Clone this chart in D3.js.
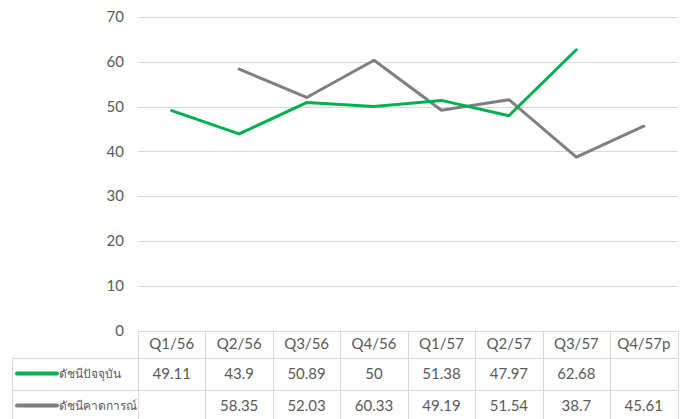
<!DOCTYPE html>
<html>
<head>
<meta charset="utf-8">
<script src="https://cdn.jsdelivr.net/npm/d3@7"></script>
<style>
  html, body { margin: 0; padding: 0; background: #fff; }
  svg { display: block; font-family: Lato, "Open Sans", sans-serif; }
</style>
</head>
<body>
<svg id="chart" width="685" height="419"></svg>
<script>
// Thai economic index chart: current vs expected, with Excel-style data table

const quarters = ["Q1/56", "Q2/56", "Q3/56", "Q4/56", "Q1/57", "Q2/57", "Q3/57", "Q4/57p"];
const currentIdx = [49.11, 43.9, 50.89, 50, 51.38, 47.97, 62.68, null];
const expectIdx = [null, 58.35, 52.03, 60.33, 49.19, 51.54, 38.7, 45.61];
const seriesNames = ["ดัชนีปัจจุบัน", "ดัชนีคาดการณ์"];
const yTicks = [0, 10, 20, 30, 40, 50, 60, 70];

const series = [
  { name: seriesNames[0], values: currentIdx, color: "#00b050" },
  { name: seriesNames[1], values: expectIdx, color: "#7f7f7f" },
];

const W = 685, H = 419;
const plotL = 138, plotR = 677.5, plotT = 17, plotB = 330.5;
const tableLeft = 12, rowH = [27, 32, 32];

const svg = d3.select("#chart");

const x = d3.scaleBand().domain(quarters).range([plotL, plotR]);
const y = d3.scaleLinear().domain([0, 70]).range([plotB, plotT]);

// gridlines
svg.append("g")
  .selectAll("line")
  .data(yTicks.filter(d => d > 0))
  .enter().append("line")
  .attr("x1", plotL).attr("x2", plotR)
  .attr("y1", d => Math.round(y(d)) + 0.5).attr("y2", d => Math.round(y(d)) + 0.5)
  .attr("stroke", "#d9d9d9").attr("stroke-width", 1);

// y axis labels
svg.append("g")
  .selectAll("text")
  .data(yTicks)
  .enter().append("text")
  .attr("x", 124)
  .attr("y", d => y(d))
  .attr("dy", "0.35em")
  .attr("text-anchor", "end")
  .attr("font-size", 15)
  .attr("fill", "#595959")
  .text(d => d);

// lines
const line = d3.line()
  .defined(d => d != null)
  .x((d, i) => x(quarters[i]) + x.bandwidth() / 2)
  .y(d => y(d));

svg.append("g")
  .selectAll("path")
  .data(series.slice().reverse())
  .enter().append("path")
  .attr("d", d => line(d.values))
  .attr("fill", "none")
  .attr("stroke", d => d.color)
  .attr("stroke-width", 3)
  .attr("stroke-linejoin", "round")
  .attr("stroke-linecap", "round");

// data table
const rowTop = [plotB, plotB + rowH[0], plotB + rowH[0] + rowH[1]];
const tbl = svg.append("g").attr("stroke", "#d9d9d9").attr("stroke-width", 1);

// horizontal rules
tbl.append("line").attr("x1", plotL).attr("x2", plotR)
  .attr("y1", Math.round(rowTop[0]) + 0.5).attr("y2", Math.round(rowTop[0]) + 0.5);
[rowTop[1], rowTop[2]].forEach(yy => {
  tbl.append("line").attr("x1", tableLeft).attr("x2", plotR)
    .attr("y1", Math.round(yy) + 0.5).attr("y2", Math.round(yy) + 0.5);
});
// vertical rules
tbl.selectAll("line.v")
  .data(quarters.map(q => x(q)).concat([plotR]))
  .enter().append("line")
  .attr("class", "v")
  .attr("x1", d => Math.round(d) + 0.5).attr("x2", d => Math.round(d) + 0.5)
  .attr("y1", rowTop[0]).attr("y2", H);
tbl.append("line")
  .attr("x1", tableLeft + 0.5).attr("x2", tableLeft + 0.5)
  .attr("y1", rowTop[1]).attr("y2", H);

// header labels
svg.append("g")
  .selectAll("text")
  .data(quarters)
  .enter().append("text")
  .attr("x", d => x(d) + x.bandwidth() / 2)
  .attr("y", rowTop[0] + rowH[0] / 2)
  .attr("dy", "0.35em")
  .attr("text-anchor", "middle")
  .attr("font-size", 15)
  .attr("fill", "#595959")
  .text(d => d);

// series rows
series.forEach((s, si) => {
  const cy = rowTop[si + 1] + rowH[si + 1] / 2;
  svg.append("line")
    .attr("x1", 17).attr("x2", 57)
    .attr("y1", cy).attr("y2", cy)
    .attr("stroke", s.color).attr("stroke-width", 4)
    .attr("stroke-linecap", "round");
  svg.append("text")
    .attr("x", 59).attr("y", cy)
    .attr("dy", "0.35em")
    .attr("font-size", 12)
    .attr("fill", "#595959")
    .text(s.name);
  svg.append("g")
    .selectAll("text")
    .data(s.values.map((v, i) => ({ v, q: quarters[i] })).filter(d => d.v != null))
    .enter().append("text")
    .attr("x", d => x(d.q) + x.bandwidth() / 2)
    .attr("y", cy)
    .attr("dy", "0.35em")
    .attr("text-anchor", "middle")
    .attr("font-size", 15)
    .attr("fill", "#595959")
    .text(d => d.v);
});
</script>
</body>
</html>
